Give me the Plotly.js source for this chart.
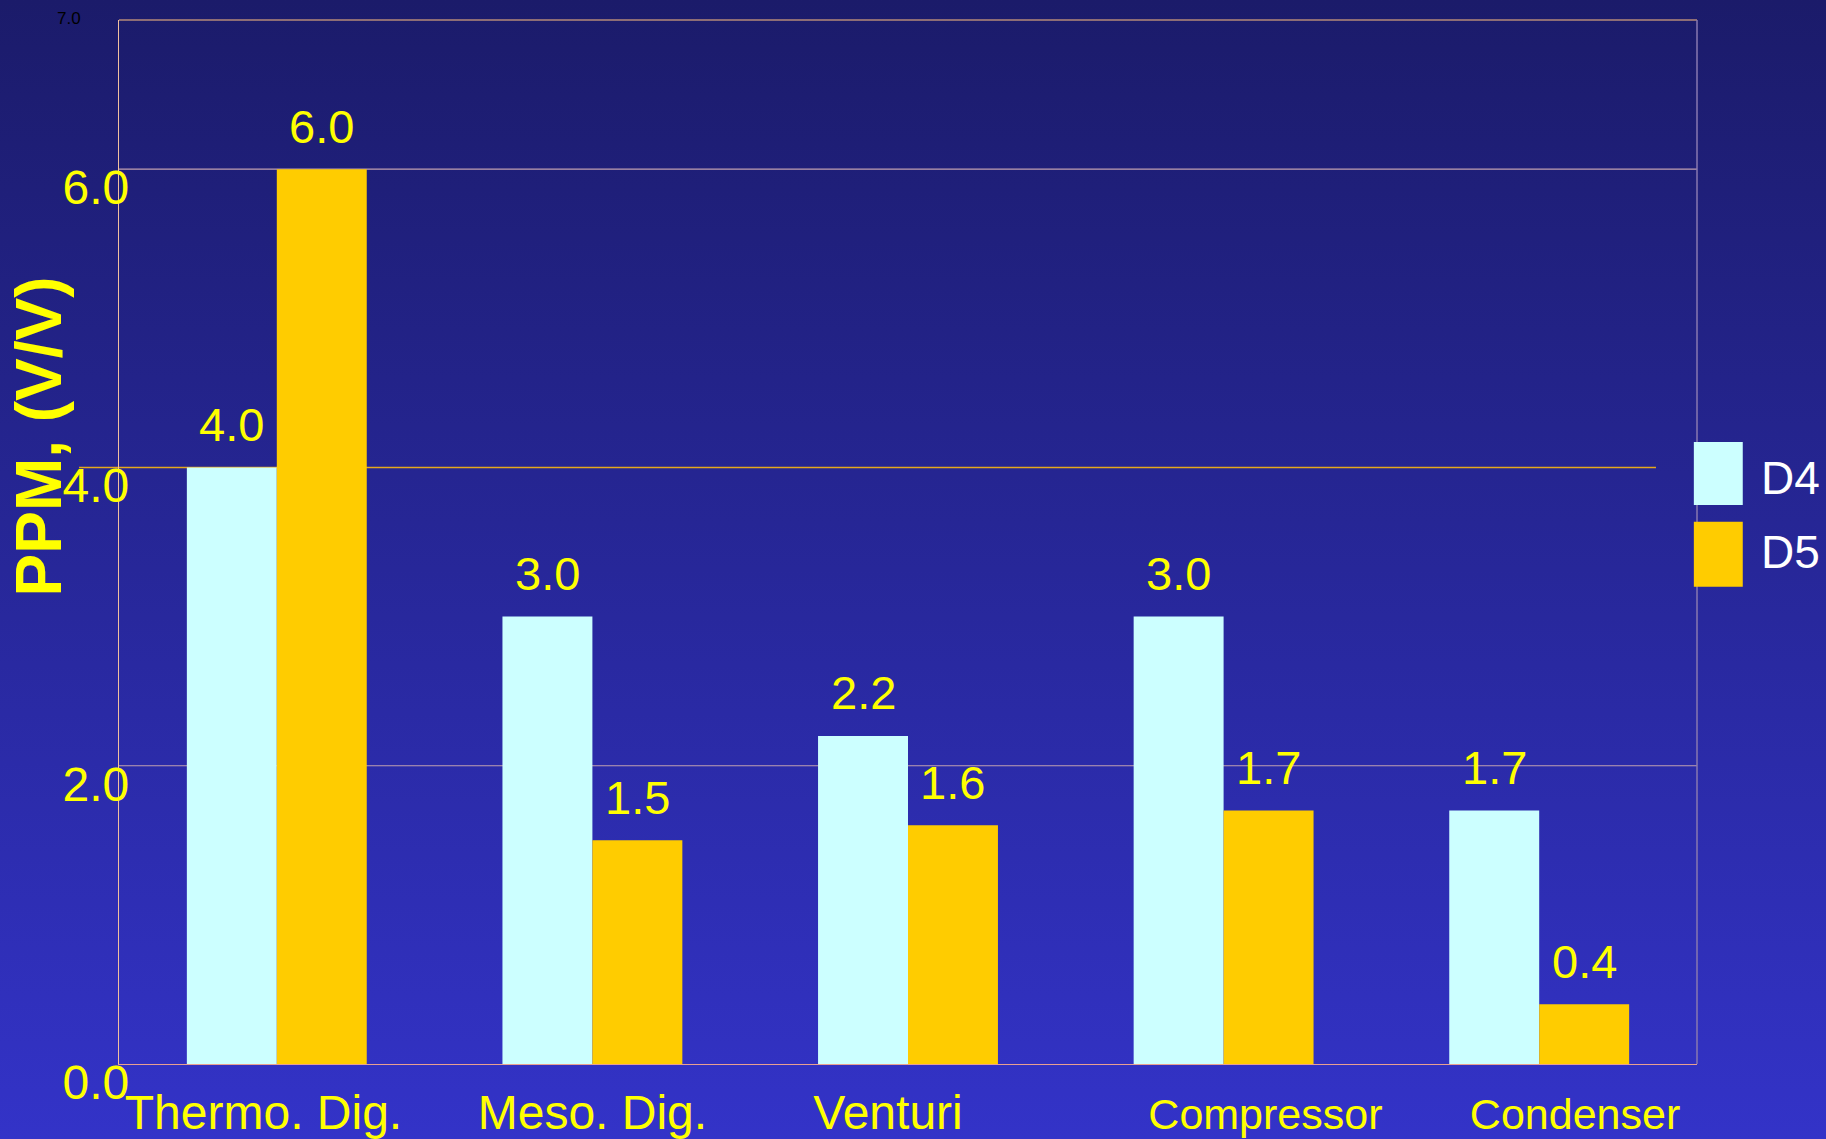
<!DOCTYPE html>
<html>
<head>
<meta charset="utf-8">
<script src="https://cdn.plot.ly/plotly-3.0.1.min.js"></script>
<style>
  html, body { margin: 0; padding: 0; }
  body { width: 1826px; height: 1139px; background: linear-gradient(to bottom, #1b1b6a 0%, #3333c8 100%); overflow: hidden; }
  #chart { width: 1826px; height: 1139px; }
</style>
</head>
<body>
<div id="chart"></div>
<script>
// ---- data ----
const categories = ["Thermo. Dig.", "Meso. Dig.", "Venturi", "Compressor", "Condenser"];
const seriesNames = ["D4", "D5"];
const d4Values = [4.0, 3.0, 2.2, 3.0, 1.7];
const d5Values = [6.0, 1.5, 1.6, 1.7, 0.4];
const yTickValues = [0, 2, 4, 6];
const yTickLabels = ["0.0", "2.0", "4.0", "6.0"];
const yTopTick = 7;
const yTopLabel = "7.0";
const yTitle = "PPM, (V/V)";
const yRange = [0, 7];
const highlightLevel = 4;

// ---- styles ----
const seriesColors = ["#ccffff", "#ffcc00"];
const yellow = "#ffff00";
const FONT = "Liberation Sans, Arial, sans-serif";
const W = 1826, H = 1139;
const M = { l: 119, r: 129, t: 20, b: 75 };
const BARGAP = 0.43;
// category label styling (sizes and non-breaking-space padding, to mimic the original's off-centre labels)
const labelSizes = [48, 48, 48, 43, 43];
const padBefore = [0, 0, 0, 7, 6];
const padAfter = [2, 0, 3, 0, 0];
const nb = "\u00a0";
const tickText = categories.map((c, i) =>
  '<span style="font-size:' + labelSizes[i] + 'px">' + nb.repeat(padBefore[i]) + c + nb.repeat(padAfter[i]) + '</span>');

const seriesValues = [d4Values, d5Values];
const traces = seriesNames.map((name, i) => ({
  type: "bar",
  name: name,
  x: categories,
  y: seriesValues[i],
  marker: { color: seriesColors[i], line: { width: 0 } },
  hoverinfo: "x+y+name"
}));

const yFrac = v => (v - yRange[0]) / (yRange[1] - yRange[0]);
const catWidth = (W - M.l - M.r) / categories.length;
const barOffset = (1 - BARGAP) / 4 * catWidth;

const annotations = [];
// value labels above each bar
seriesValues.forEach((vals, s) => {
  vals.forEach((v, k) => {
    annotations.push({
      text: v.toFixed(1), x: categories[k], y: v, xref: "x", yref: "y",
      xshift: (s === 0 ? -1 : 1) * barOffset, yshift: 43,
      xanchor: "center", yanchor: "middle", showarrow: false,
      font: { family: FONT, size: 47, color: yellow }
    });
  });
});

const shapes = [];
// gridlines (the 4.0 one is orange and shorter, as in the original)
yTickValues.filter(v => v > yRange[0]).forEach(v => {
  if (v === highlightLevel) {
    shapes.push({ type: "line", xref: "paper", yref: "paper", x0: -0.0253, x1: 0.974, y0: yFrac(v), y1: yFrac(v),
      line: { color: "#e6a81c", width: 1.6 }, layer: "below" });
  } else {
    shapes.push({ type: "line", xref: "paper", yref: "paper", x0: 0, x1: 1, y0: yFrac(v), y1: yFrac(v),
      line: { color: "#c0a0b0", width: 1.1 }, layer: "below" });
  }
});
// top and right borders
shapes.push(
  { type: "line", xref: "paper", yref: "paper", x0: 0, x1: 1, y0: 1, y1: 1, line: { color: "#ffc080", width: 1.2 } },
  { type: "line", xref: "paper", yref: "paper", x0: 1, x1: 1, y0: 0, y1: 1, line: { color: "#8878b0", width: 1.5 } }
);

annotations.push(
  { text: "<b>" + yTitle + "</b>", xref: "paper", yref: "paper", x: -0.051, y: 0.6006, textangle: -90,
    xanchor: "center", yanchor: "middle", showarrow: false, font: { family: FONT, size: 64, color: yellow } },
  { text: yTopLabel, xref: "paper", yref: "y", x: -0.023, y: yTopTick, xanchor: "right", yanchor: "middle",
    yshift: 2, showarrow: false, font: { family: FONT, size: 17, color: "#000000" } }
);

// custom legend (large swatches)
const legendBoxes = [
  { y0: 0.5958, y1: 0.5355, ty: 0.5614 },
  { y0: 0.5193, y1: 0.4571, ty: 0.4905 }
];
seriesNames.forEach((name, i) => {
  const b = legendBoxes[i];
  shapes.push({ type: "rect", xref: "paper", yref: "paper", x0: 0.998, x1: 1.029, y0: b.y1, y1: b.y0,
    fillcolor: seriesColors[i], line: { width: 0 }, layer: "above" });
  annotations.push({ text: name, xref: "paper", yref: "paper", x: 1.039, y: b.ty, xanchor: "left", yanchor: "middle",
    showarrow: false, font: { family: FONT, size: 46, color: "#ffffff" } });
});

const layout = {
  width: W, height: H,
  margin: { l: M.l, r: M.r, t: M.t, b: M.b, pad: 0 },
  paper_bgcolor: "rgba(0,0,0,0)",
  plot_bgcolor: "rgba(0,0,0,0)",
  font: { family: FONT, color: yellow },
  showlegend: false,
  barmode: "group",
  bargap: BARGAP,
  bargroupgap: 0,
  xaxis: {
    type: "category",
    tickmode: "array",
    tickvals: categories,
    ticktext: tickText,
    tickangle: 0,
    range: [-0.5, categories.length - 0.5],
    tickfont: { family: FONT, size: 46, color: yellow },
    showline: true, linecolor: "#e8a090", linewidth: 1.2,
    ticks: "", showgrid: false, zeroline: false,
    ticklabelstandoff: 9,
    automargin: false
  },
  yaxis: {
    range: yRange,
    tickmode: "array",
    tickvals: yTickValues,
    ticktext: yTickLabels,
    tickfont: { family: FONT, size: 48, color: yellow },
    showgrid: false,
    zeroline: false,
    showline: true, linecolor: "#f0c0a0", linewidth: 1.2,
    ticks: "",
    ticklabelstandoff: -21,
    ticklabelshift: 18,
    automargin: false
  },
  shapes: shapes,
  annotations: annotations
};

Plotly.newPlot("chart", traces, layout, { displayModeBar: false, responsive: false });
</script>
</body>
</html>
